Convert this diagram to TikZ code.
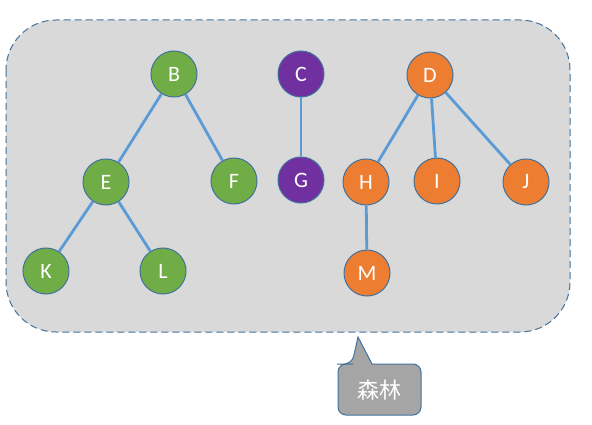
\documentclass[tikz,border=0pt]{standalone}
\usepackage{fontspec}
\setmainfont{Carlito}
\newfontfamily\cjkfont{Noto Sans CJK SC}
\usepackage{xcolor}
\usepackage{tikz}
\usetikzlibrary{calc, positioning}

\definecolor{treegreen}{HTML}{70AD47}
\definecolor{treepurple}{HTML}{7030A0}
\definecolor{treeorange}{HTML}{ED7D31}
\definecolor{edgeblue}{HTML}{5B9BD5}
\definecolor{rimblue}{HTML}{41719C}
\definecolor{forestgray}{HTML}{D9D9D9}
\definecolor{notegray}{HTML}{A5A5A5}

\begin{document}
\begin{tikzpicture}[x=1pt, y=-1pt,
    vtx/.style={circle, draw=rimblue, line width=1pt, minimum size=46pt, inner sep=0pt,
        text=white, font=\fontsize{22}{26}\selectfont},
    gv/.style={vtx, fill=treegreen},
    pv/.style={vtx, fill=treepurple},
    ov/.style={vtx, fill=treeorange},
    branch/.style={draw=edgeblue, line width=2.8pt}]
    \useasboundingbox (0,0) rectangle (592,425);

    % Background of the forest
    \draw[rimblue, dash pattern=on 7pt off 4pt, line width=1pt, fill=forestgray, rounded corners=50pt]
        (6,20) rectangle (570,332);

    % First tree
    \node[gv] (B) at (174,74) {B};
    \node[gv] (E) at (106,182) {E};
    \node[gv] (F) at (234,181) {F};
    \node[gv] (K) at (46,271) {K};
    \node[gv] (L) at (163,271) {L};

    % Second tree
    \node[pv] (C) at (301,74) {C};
    \node[pv] (G) at (301,180) {G};

    % Third tree
    \node[ov] (D) at (430,75) {D};
    \node[ov] (H) at (366,182) {H};
    \node[ov] (I) at (437,181) {I};
    \node[ov] (J) at (526,182) {J};
    \node[ov] (M) at (367,273) {M};

    % Edges
    \foreach \a/\b in {B/E, B/F, E/K, E/L, C/G, D/H, D/I, D/J, H/M} {
        \draw[branch] (\a) -- (\b);
    }

    % Callout
    \draw[draw=rimblue, line width=1pt, fill=notegray, rounded corners=8pt]
        (345,364) -- (352,364) [sharp corners] -- (358,337) -- (372,364)
        [rounded corners=8pt] -- (421,364) -- (421,415) -- (338,415) -- (338,364) -- cycle;
    \node[text=white, font=\cjkfont\fontsize{22}{26}\selectfont] (forest) at (379,390) {森林};
\end{tikzpicture}
\end{document}
